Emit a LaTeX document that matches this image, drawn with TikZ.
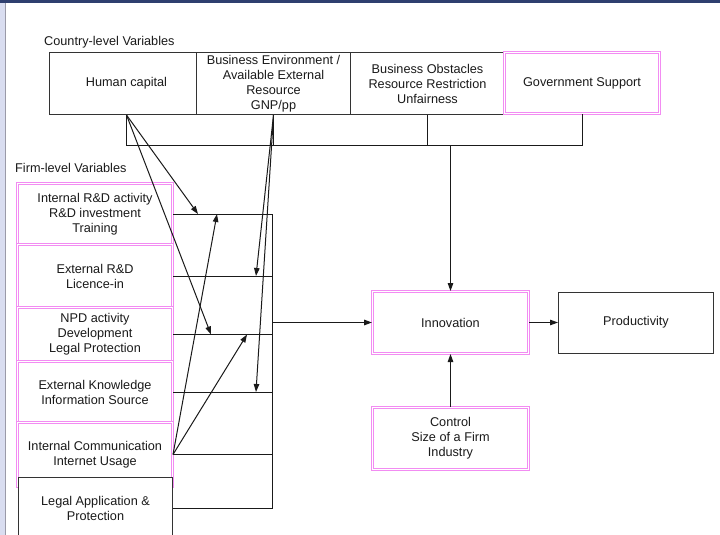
\documentclass[tikz,border=0pt]{standalone}
\usepackage{fontspec}
\setmainfont{Liberation Sans}
\usetikzlibrary{arrows.meta, calc}

\begin{document}
\begin{tikzpicture}[
    x=1pt, y=-1pt,
    every node/.style={font=\fontsize{12.7}{15}\selectfont, text=textcolor, align=center, inner sep=0pt},
    plainbox/.style={draw=boxcolor, line width=1pt, fill=white},
    pinkbox/.style={draw=pinkcolor, double=white, double distance=1pt, line width=1pt, fill=white},
    firmbox/.style={pinkbox, minimum width=155pt},
    conn/.style={draw=linecolor, line width=1pt},
    arr/.style={conn, -{Triangle[length=8pt, width=5.5pt]}},
]

% ---------------------------------------------------------------- colours
\definecolor{textcolor}{HTML}{1A1A1A}
\definecolor{boxcolor}{HTML}{333333}
\definecolor{linecolor}{HTML}{1A1A1A}
\definecolor{pinkcolor}{HTML}{F28CF2}
\definecolor{bandcolor}{HTML}{2F3F6F}
\definecolor{stripcolor}{HTML}{D9DDF0}
\definecolor{edgecolor}{HTML}{9A9AA8}

\useasboundingbox (0,0) rectangle (720,535);

% slide frame
\fill[white] (0,0) rectangle (720,535);
\fill[bandcolor] (0,0) rectangle (720,3.3);
\fill[stripcolor] (0,3.3) rectangle (5,535);
\draw[edgecolor, line width=1pt] (5.5,3.3) -- (5.5,535);

% ================================================================
% country level: four boxes in a row, y = 52.5 .. 114.5
% ================================================================
\node[anchor=base west] (clabel) at (44,46) {Country-level Variables};

\node[plainbox, minimum width=154pt, minimum height=62pt] (hc) at (126.5,83.5) {Human capital};
\node[plainbox, minimum width=154pt, minimum height=62pt] (be) at (273.5,83.5)
    {Business Environment /\\Available External\\Resource\\GNP/pp};
\node[plainbox, minimum width=154pt, minimum height=62pt] (bo) at (427.5,83.5)
    {Business Obstacles\\Resource Restriction\\Unfairness};
\node[pinkbox, minimum width=155pt, minimum height=61pt] (gs) at (582,83) {Government Support};

% ================================================================
% firm level: a column of boxes, x = 17.5 .. 172.5
% ================================================================
\node[anchor=base west] (flabel) at (15,172) {Firm-level Variables};

\node[firmbox, minimum height=61pt] (f1) at (95,214)
    {Internal R\&D activity\\R\&D investment\\Training};
\node[firmbox, minimum height=63pt] (f2) at (95,276) {External R\&D\\Licence-in};
\node[firmbox, minimum height=54pt] (f3) at (95,334.5)
    {NPD activity\\Development\\Legal Protection};
\node[firmbox, minimum height=61pt] (f4) at (95,392) {External Knowledge\\Information Source};
\node[firmbox, minimum height=64pt] (f5) at (95,454.5) {Internal Communication\\Internet Usage};
\node[plainbox, minimum width=154pt, minimum height=62pt] (f6) at (95.5,508.5)
    {Legal Application \&\\Protection};

% the ladder beside the firm boxes
\coordinate (gx) at (272.5,0);
\foreach \n in {f1,f2,f3,f4,f5,f6} {
    \draw[conn] (\n.east) -- (\n.east -| gx);
}
\draw[conn] (f1.east -| gx) -- (f6.east -| gx);

% ================================================================
% outcome side
% ================================================================
\node[pinkbox, minimum width=156pt, minimum height=62pt] (inno) at (450.5,322.5) {Innovation};
\node[plainbox, minimum width=155pt, minimum height=61pt] (prod) at (636,322.5) {Productivity};
\node[pinkbox, minimum width=156pt, minimum height=62pt] (ctrl) at (450.5,438.5)
    {Control\\Size of a Firm\\Industry};

% bracket under the country boxes
\coordinate (bus) at (450.5,145.5);
\draw[conn] (hc.south) -- (hc.south |- bus) -| (gs.south);
\draw[conn] (be.south) -- (be.south |- bus);
\draw[conn] (bo.south) -- (bo.south |- bus);
\draw[arr, line width=1.2pt] (bus) -- (inno.north);

\draw[arr, line width=1.5pt] (inno.west -| gx) -- (inno.west);
\draw[arr] (inno.east) -- (prod.west);
\draw[arr] (ctrl.north) -- (inno.south);

% crossing arrows into the ladder
\coordinate (t1) at (198,214);
\coordinate (t2) at (211,334.5);
\coordinate (t3) at (256,276);
\coordinate (t4) at (256,392);
\coordinate (t5) at (217,214);
\coordinate (t6) at (247,334.5);

\draw[arr] (hc.south) -- (t1);
\draw[arr] (hc.south) -- (t2);
\draw[arr] (be.south) -- (t3);
\draw[arr] (be.south) -- (t4);
\draw[arr] (f5.east) -- (t5);
\draw[arr] (f5.east) -- (t6);

\end{tikzpicture}
\end{document}
